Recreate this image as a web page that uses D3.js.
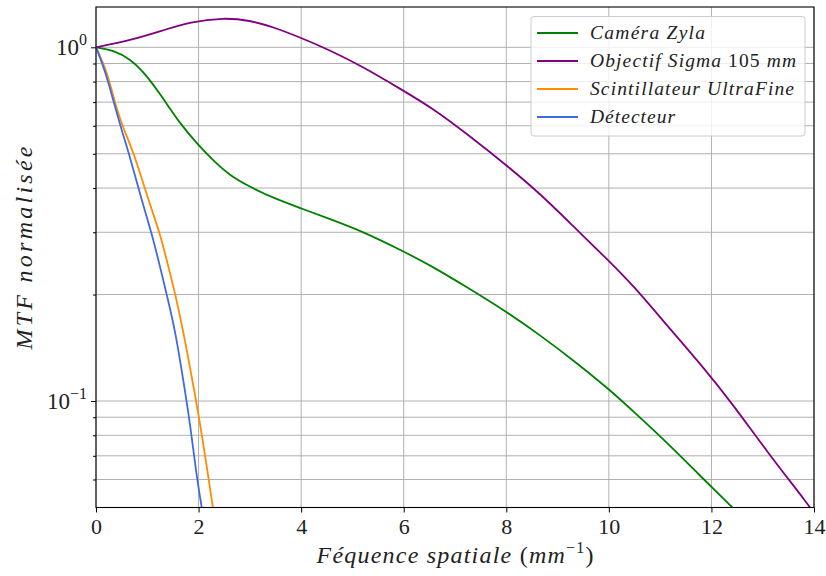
<!DOCTYPE html>
<html>
<head>
<meta charset="utf-8">
<script src="https://cdn.jsdelivr.net/npm/d3@7"></script>
<style>
  html, body { margin: 0; padding: 0; background: #fff; }
  svg { display: block; }
  text { font-family: "Liberation Serif", "DejaVu Serif", serif; fill: #222; }
</style>
</head>
<body>
<svg id="chart" width="826" height="576"></svg>
<script>
// ---- Data ----
const zylaX   = [0, 0.337, 0.663, 0.988, 1.312, 1.638, 1.963, 2.287, 2.6, 3.0, 3.457, 4.01, 4.562, 5.21, 5.927, 6.576, 7.227, 8.007, 8.656, 9.306, 10.02, 10.476, 11.127, 11.778, 12.39, 12.6];
const zylaY   = [1.0, 0.981, 0.929, 0.834, 0.716, 0.609, 0.535, 0.478, 0.435, 0.403, 0.375, 0.350, 0.327, 0.301, 0.268, 0.2395, 0.210, 0.1788, 0.1536, 0.1305, 0.1075, 0.0935, 0.0765, 0.0615, 0.0503, 0.047];

const sigmaX  = [0, 0.663, 1.312, 1.833, 2.482, 3.0, 3.457, 4.01, 4.562, 5.21, 5.927, 6.576, 7.227, 8.007, 8.656, 9.306, 10.02, 10.476, 11.127, 11.778, 12.43, 13.08, 13.92, 14.1];
const sigmaY  = [1.0, 1.045, 1.117, 1.179, 1.213, 1.192, 1.141, 1.062, 0.981, 0.880, 0.764, 0.671, 0.570, 0.464, 0.386, 0.312, 0.2474, 0.2120, 0.164, 0.1278, 0.0974, 0.0720, 0.0503, 0.046];

const scintX  = [0, 0.21, 0.37, 0.532, 0.65, 0.825, 1.02, 1.248, 1.41, 1.56, 1.735, 1.95, 2.06, 2.19, 2.275, 2.32];
const scintY  = [1.0, 0.861, 0.693, 0.590, 0.540, 0.459, 0.370, 0.298, 0.240, 0.197, 0.149, 0.1007, 0.081, 0.0611, 0.0503, 0.046];

const detX    = [0, 0.175, 0.337, 0.50, 0.663, 0.891, 1.086, 1.248, 1.378, 1.540, 1.735, 1.833, 1.963, 2.06, 2.1];
const detY    = [1.0, 0.861, 0.708, 0.583, 0.490, 0.370, 0.298, 0.240, 0.200, 0.160, 0.107, 0.0865, 0.0611, 0.0503, 0.046];

const seriesNames  = ["Caméra Zyla", "Objectif Sigma 105 mm", "Scintillateur UltraFine", "Détecteur"];
const seriesColors = ["#008000", "#800080", "#ff8c00", "#4169e1"];
const xTicks = [0, 2, 4, 6, 8, 10, 12, 14];
const yMajorTicks = [1, 0.1];
const yMinorTicks = [0.06, 0.07, 0.08, 0.09, 0.2, 0.3, 0.4, 0.5, 0.6, 0.7, 0.8, 0.9];

// ---- Layout ----
const svg = d3.select("#chart");
const L = 96, R = 814, T = 7, B = 507.5;

const x = d3.scaleLinear().domain([0, 14]).range([L, R]);
const y = d3.scaleLog().domain([0.05, 1.3]).range([B, T]);

// grid
const grid = svg.append("g");
grid.selectAll("line.gx").data(xTicks).join("line")
  .attr("x1", d => x(d)).attr("x2", d => x(d)).attr("y1", T).attr("y2", B)
  .attr("stroke", "#b0b0b0").attr("stroke-width", 1);
grid.selectAll("line.gy").data(yMajorTicks.concat(yMinorTicks)).join("line")
  .attr("x1", L).attr("x2", R).attr("y1", d => y(d)).attr("y2", d => y(d))
  .attr("stroke", "#b0b0b0").attr("stroke-width", 1);

// curves
svg.append("clipPath").attr("id", "clip").append("rect")
  .attr("x", L).attr("y", T).attr("width", R - L).attr("height", B - T);

const series = [
  [zylaX, zylaY], [sigmaX, sigmaY], [scintX, scintY], [detX, detY]
];
const line = d3.line().x(d => x(d[0])).y(d => y(d[1])).curve(d3.curveBasis);
const curves = svg.append("g").attr("clip-path", "url(#clip)");
series.forEach((s, i) => {
  const pts = s[0].map((xv, k) => [xv, s[1][k]]);
  curves.append("path").datum(pts).attr("d", line)
    .attr("fill", "none").attr("stroke", seriesColors[i]).attr("stroke-width", 1.8);
});

// axes
const xAxis = d3.axisBottom(x).tickValues(xTicks).tickSize(5).tickPadding(6).tickFormat(d3.format("d"));
const gx = svg.append("g").attr("transform", `translate(0,${B})`).call(xAxis);
gx.select(".domain").remove();
gx.selectAll("line").attr("stroke", "#000").attr("stroke-width", 1);
gx.selectAll("text").attr("font-size", 22).attr("fill", "#222")
  .style("font-family", '"Liberation Serif", serif');

const yAxis = d3.axisLeft(y).tickValues(yMajorTicks).tickSize(5).tickFormat(() => "");
const gy = svg.append("g").attr("transform", `translate(${L},0)`).call(yAxis);
gy.select(".domain").remove();
gy.selectAll("line").attr("stroke", "#000");
const yMinor = d3.axisLeft(y).tickValues(yMinorTicks).tickSize(3).tickFormat(() => "");
const gym = svg.append("g").attr("transform", `translate(${L},0)`).call(yMinor);
gym.select(".domain").remove();
gym.selectAll("line").attr("stroke", "#000");

// y major tick labels as 10^n
yMajorTicks.forEach(v => {
  const t = svg.append("text").attr("x", L - 9).attr("y", y(v) + 8)
    .attr("text-anchor", "end").attr("font-size", 23);
  const exp = Math.round(Math.log10(v));
  t.append("tspan").text("10");
  t.append("tspan").attr("dy", -10).attr("font-size", 16).text(exp < 0 ? "\u2212" + (-exp) : String(exp));
});

// frame
svg.append("rect").attr("x", L).attr("y", T).attr("width", R - L).attr("height", B - T)
  .attr("fill", "none").attr("stroke", "#000").attr("stroke-width", 1.1);

// axis labels
const xl = svg.append("text").attr("x", (L + R) / 2).attr("y", 563)
  .attr("text-anchor", "middle").attr("font-size", 24)
  .attr("textLength", 277).attr("lengthAdjust", "spacing");
xl.append("tspan").attr("font-style", "italic").text("Féquence spatiale ");
xl.append("tspan").text("(");
xl.append("tspan").attr("font-style", "italic").text("mm");
xl.append("tspan").attr("dy", -10).attr("font-size", 16).text("\u22121");
xl.append("tspan").attr("dy", 10).text(")");

svg.append("text").attr("transform", `translate(32,248) rotate(-90)`)
  .attr("text-anchor", "middle").attr("font-size", 24).attr("font-style", "italic")
  .attr("textLength", 203).attr("lengthAdjust", "spacing")
  .text("MTF normalisée");

// legend
const lg = svg.append("g");
lg.append("rect").attr("x", 531).attr("y", 16.5).attr("width", 274).attr("height", 119.5)
  .attr("rx", 3).attr("fill", "rgba(255,255,255,0.8)").attr("stroke", "#cccccc").attr("stroke-width", 1);
const rowY = [33, 61, 89, 117];
const textLens = [115, 206, 204, 85];
seriesNames.forEach((name, i) => {
  lg.append("line").attr("x1", 537).attr("x2", 578).attr("y1", rowY[i]).attr("y2", rowY[i])
    .attr("stroke", seriesColors[i]).attr("stroke-width", 1.8);
  const t = lg.append("text").attr("x", 590).attr("y", rowY[i] + 6).attr("font-size", 19.5)
    .attr("textLength", textLens[i]).attr("lengthAdjust", "spacing");
  if (name.indexOf("105") >= 0) {
    t.append("tspan").attr("font-style", "italic").text("Objectif Sigma ");
    t.append("tspan").text("105 ");
    t.append("tspan").attr("font-style", "italic").text("mm");
  } else {
    t.append("tspan").attr("font-style", "italic").text(name);
  }
});
</script>
</body>
</html>
